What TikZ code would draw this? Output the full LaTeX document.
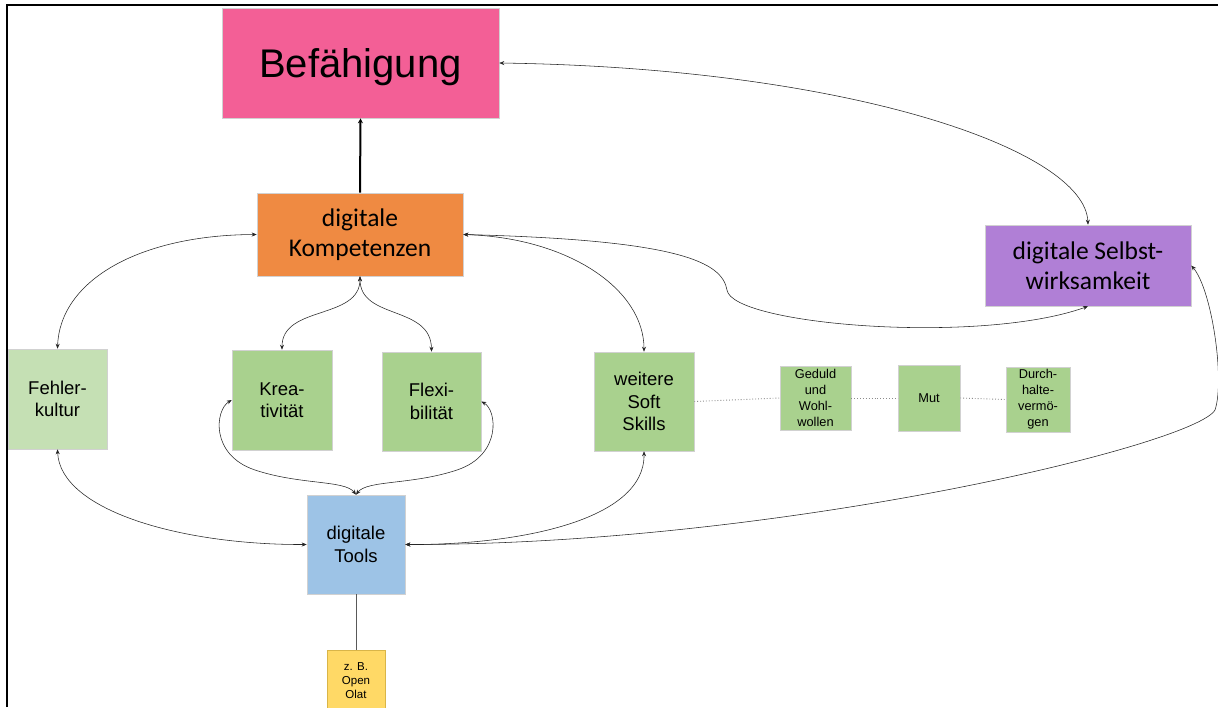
\documentclass[tikz,border=0pt]{standalone}
\usepackage{fontspec}
\setmainfont{Liberation Sans}
\newfontfamily\carlitofont{Carlito}
\usetikzlibrary{arrows.meta}
\definecolor{cPink}{HTML}{F35F96}
\definecolor{cOrange}{HTML}{EF8A42}
\definecolor{cPurple}{HTML}{B07FD6}
\definecolor{cLGreen}{HTML}{C5E0B4}
\definecolor{cGreen}{HTML}{A9D18E}
\definecolor{cBlue}{HTML}{9DC3E6}
\definecolor{cYellow}{HTML}{FFD966}
\definecolor{cYellowB}{HTML}{D9B548}
\tikzset{
  box/.style={draw=black!18, line width=0.6pt, inner sep=0pt, align=center, text=black},
  conn/.style={draw=black!85, line width=0.55pt, {Stealth[length=5pt,width=4pt]}-{Stealth[length=5pt,width=4pt]}},
  dotline/.style={draw=black!45, line width=0.9pt, dotted},
  thinline/.style={draw=black!65, line width=0.6pt},
  bigfont/.style={font=\fontsize{40}{46}\selectfont},
  calfont/.style={font=\carlitofont\fontsize{25.5}{30}\selectfont},
  midfont/.style={font=\fontsize{18.5}{22.5}\selectfont},
  smallfont/.style={font=\fontsize{12.8}{16}\selectfont},
  tinyfont/.style={font=\fontsize{11.5}{14}\selectfont}
}
\begin{document}
\begin{tikzpicture}[x=1pt,y=-1pt]
\useasboundingbox (0,0) rectangle (1218,707);
\fill[white] (0,0) rectangle (1218,707);
% frame
\draw[line width=2pt] (7,707) -- (7,5) -- (1218,5);
% nodes
\node[box, fill=cPink, bigfont, minimum width=277pt, minimum height=110pt] (befa) at (360.5,63) {\raisebox{-4pt}[\height][\depth]{Befähigung}};
\node[box, fill=cOrange, calfont, minimum width=206pt, minimum height=83pt] (komp) at (360,234.5) {digitale\\Kompetenzen};
\node[box, fill=cPurple, calfont, minimum width=206pt, minimum height=81pt] (selbst) at (1088,265.5) {digitale Selbst-\\wirksamkeit};
\node[box, fill=cLGreen, midfont, minimum width=99pt, minimum height=100pt] (fehler) at (57.5,399) {Fehler-\\kultur};
\node[box, fill=cGreen, midfont, minimum width=100pt, minimum height=100pt] (krea) at (282,400) {Krea-\\tivität};
\node[box, fill=cGreen, midfont, minimum width=99pt, minimum height=99pt] (flexi) at (431.5,401.5) {Flexi-\\bilität};
\node[box, fill=cGreen, midfont, minimum width=100pt, minimum height=99pt] (soft) at (644,401.5) {weitere\\Soft\\Skills};
\node[box, fill=cGreen, smallfont, minimum width=71pt, minimum height=64pt] (geduld) at (815.5,398) {Geduld\\und\\Wohl-\\wollen};
\node[box, fill=cGreen, smallfont, minimum width=62pt, minimum height=66pt] (mut) at (929,398) {Mut};
\node[box, fill=cGreen, smallfont, minimum width=64pt, minimum height=65pt] (durch) at (1038,399.5) {Durch-\\halte-\\vermö-\\gen};
\node[box, fill=cBlue, midfont, minimum width=98pt, minimum height=99pt] (tools) at (356,544.5) {digitale\\Tools};
\node[box, draw=cYellowB, fill=cYellow, tinyfont, minimum width=58pt, minimum height=60pt, anchor=north] (olat) at (356,650) {z. B.\\Open\\Olat};
% connectors
\draw[line width=2pt, -{Stealth[length=5pt,width=5pt]}] (komp.north) -- (befa.south);
\draw[conn] (befa.east) .. controls (850,68) and (1085,150) .. (selbst.north);
\draw[conn] (komp.west) .. controls (140,235) and (60,280) .. (fehler.north);
\draw[conn] (komp.south) .. controls (360,320) and (282,305) .. (krea.north);
\draw[conn] (komp.south) .. controls (360,320) and (431,305) .. (flexi.north);
\draw[conn] (komp.east) .. controls (570,238) and (644,290) .. (soft.north);
\draw[conn] (komp.east) .. controls (680,240) and (722,262) .. (727,290) .. controls (732,325) and (980,345) .. (selbst.south);
\draw[conn] (fehler.south) .. controls (60,510) and (180,545) .. (tools.west);
\draw[conn] (krea.west) .. controls (215,410) and (210,455) .. (255,470) .. controls (300,485) and (345,480) .. (tools.north);
\draw[conn] (flexi.east) .. controls (497,410) and (502,455) .. (457,470) .. controls (412,485) and (367,480) .. (tools.north);
\draw[conn] (soft.south) .. controls (645,520) and (520,545) .. (tools.east);
\draw[conn] (selbst.east) .. controls (1212,290) and (1225,380) .. (1215,410) .. controls (1195,445) and (780,545) .. (tools.east);
\draw[dotline] (soft.east) -- (geduld.west);
\draw[dotline] (geduld.east) -- (mut.west);
\draw[dotline] (mut.east) -- (durch.west);
\draw[thinline] (tools.south) -- (olat.north);
\end{tikzpicture}
\end{document}
